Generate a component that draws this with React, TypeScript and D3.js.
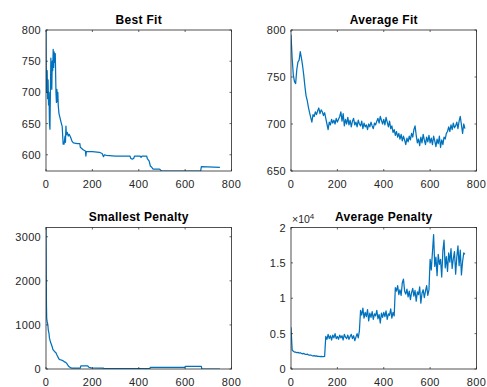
import React from 'react';
import * as d3 from 'd3';

// generation step used by the noisy (average) series
const STEP = 5;

// best fit: [generation, value]
const bestFit: [number, number][] = [
  [0, 800], [1, 740], [3, 700], [5, 735], [7, 690], [9, 720], [11, 680], [13, 700], [15, 650], [17, 641],
  [19, 700], [21, 755], [23, 720], [25, 705], [27, 750], [29, 735], [31, 769], [33, 740], [35, 765], [37, 748],
  [40, 762], [43, 700], [45, 684], [47, 705], [49, 685], [51, 700], [53, 678], [56, 666], [60, 660], [65, 652],
  [70, 645], [72, 630], [74, 617], [78, 617], [82, 630], [84, 620], [86, 646], [88, 632], [92, 636], [96, 630],
  [100, 633], [106, 628], [112, 622], [118, 619], [135, 618], [146, 618], [148, 612], [160, 608], [170, 606], [172, 598],
  [174, 605], [200, 605], [230, 604], [242, 602], [248, 597], [252, 600], [260, 599], [300, 598], [362, 598], [366, 594],
  [372, 593], [378, 594], [382, 598], [405, 598], [410, 596], [415, 598], [434, 598], [437, 594], [445, 590], [450, 582],
  [456, 580], [462, 577], [490, 577], [498, 574], [667, 574], [670, 581], [750, 580],
];

// average fit, one value every STEP generations from 0 to 750
const avgFit = [
  795, 770, 752, 745, 743, 758, 766, 768, 777, 770, 762, 752, 740, 730, 725, 718, 712, 707, 702, 710,
  708, 713, 710, 714, 717, 711, 715, 713, 709, 712, 706, 700, 694, 702, 699, 705, 701, 704, 700, 706,
  702, 705, 708, 713, 703, 711, 698, 705, 700, 707, 699, 704, 697, 703, 706, 699, 702, 697, 704, 700,
  698, 703, 695, 701, 697, 699, 694, 700, 697, 702, 698, 695, 701, 699, 703, 706, 701, 708, 704, 700,
  705, 699, 707, 702, 697, 703, 695, 698, 691, 694, 688, 692, 686, 690, 684, 689, 682, 687, 683, 678,
  685, 681, 687, 683, 690, 686, 694, 698, 688, 680, 684, 677, 686, 680, 689, 683, 678, 686, 681, 688,
  680, 685, 678, 687, 682, 676, 684, 679, 687, 675, 683, 678, 686, 684, 690, 692, 697, 692, 699, 694,
  701, 696, 698, 702, 695, 703, 708, 699, 690, 700, 695,
];

// smallest penalty: [generation, value]
const smallestPenalty: [number, number][] = [
  [0, 3210], [1, 2200], [2, 1450], [3, 1150], [5, 1080], [8, 1000], [10, 880], [13, 800], [15, 700], [17, 660],
  [20, 600], [23, 560], [27, 500], [30, 440], [33, 420], [37, 400], [40, 380], [43, 370], [46, 330], [50, 290],
  [55, 230], [60, 210], [65, 205], [70, 195], [75, 180], [80, 160], [85, 150], [90, 120], [95, 80], [100, 50],
  [106, 30], [110, 22], [148, 22], [150, 70], [180, 70], [185, 40], [195, 25], [248, 22], [250, 8], [448, 8],
  [450, 38], [599, 38], [601, 60], [670, 60], [672, 0], [750, 0],
];

// average penalty, one value every STEP generations from 0 to 750
const avgPenalty = [
  5900, 2700, 2500, 2400, 2380, 2300, 2350, 2250, 2300, 2200, 2150, 2200, 2100, 2050, 2100, 2000, 1950, 1980, 1900, 1870,
  1900, 1820, 1850, 1780, 1800, 1760, 1790, 1740, 1760, 1780, 4600, 4200, 4900, 4300, 4700, 4100, 4800, 4400, 5000, 4300,
  4600, 4200, 4800, 4400, 4700, 4100, 4900, 4500, 4300, 4800, 4200, 4600, 4900, 4300, 4700, 4000, 4500, 5000, 4400, 5400,
  8300, 7600, 8600, 7200, 8000, 7400, 8400, 6800, 7900, 7300, 8100, 7000, 7800, 7500, 8300, 7100, 7700, 6500, 7900, 7300,
  8000, 7400, 8200, 7000, 7800, 7600, 8500, 7200, 8000, 7500, 11500, 11000, 11800, 10500, 11200, 10400, 12200, 12700, 11000, 10600,
  11300, 10200, 11000, 9800, 10800, 11400, 10300, 11100, 9600, 10900, 10500, 11600, 9300, 10700, 11200, 10100, 11000, 11800, 10400, 11200,
  15500, 14000, 16500, 19000, 14500, 15800, 13200, 16200, 14800, 15500, 13000, 16700, 18200, 14300, 15900, 13800, 16400, 15100, 17000, 14200,
  15600, 16600, 13400, 15800, 17400, 14600, 16800, 13300, 15200, 16400, 16200,
];

const xTicks = [0, 200, 400, 600, 800];

const FONT = '"Liberation Sans", Arial, Helvetica, sans-serif';
const AXIS = '#262626';
const LINE = '#0072BD';

interface PanelProps {
  title: string;
  left: number;
  top: number;
  right: number;
  bottom: number;
  yDomain: [number, number];
  yTicks: number[];
  yFormat: (v: number) => string;
  points: [number, number][];
  exponent?: string;
}

const Panel: React.FC<PanelProps> = ({ title, left, top, right, bottom, yDomain, yTicks, yFormat, points, exponent }) => {
  const x = d3.scaleLinear().domain([0, 800]).range([left, right]);
  const y = d3.scaleLinear().domain(yDomain).range([bottom, top]);
  const line = d3.line<[number, number]>().x(d => x(d[0])).y(d => y(d[1]));
  const tl = 2;
  const cx = (left + right) / 2;
  const clipId = `clip-${title.replace(/\s/g, '')}`;
  return (
    <g>
      <defs>
        <clipPath id={clipId}>
          <rect x={left} y={top} width={right - left} height={bottom - top} />
        </clipPath>
      </defs>
      <rect x={left} y={top} width={right - left} height={bottom - top} fill="#fff" />
      <path
        d={line(points) || ''}
        fill="none"
        stroke={LINE}
        strokeWidth={1.25}
        strokeLinejoin="round"
        clipPath={`url(#${clipId})`}
      />
      {xTicks.map(t => (
        <g key={`x${t}`}>
          <line x1={x(t)} x2={x(t)} y1={bottom} y2={bottom - tl} stroke={AXIS} strokeWidth={0.7} />
          <line x1={x(t)} x2={x(t)} y1={top} y2={top + tl} stroke={AXIS} strokeWidth={0.7} />
          <text x={x(t)} y={bottom + 16.5} textAnchor="middle" fontSize={11} letterSpacing={0.3} fill={AXIS} fontFamily={FONT}>
            {t}
          </text>
        </g>
      ))}
      {yTicks.map(t => (
        <g key={`y${t}`}>
          <line x1={left} x2={left + tl} y1={y(t)} y2={y(t)} stroke={AXIS} strokeWidth={0.7} />
          <line x1={right} x2={right - tl} y1={y(t)} y2={y(t)} stroke={AXIS} strokeWidth={0.7} />
          <text x={left - 5} y={y(t) + 4} textAnchor="end" fontSize={11} letterSpacing={0.3} fill={AXIS} fontFamily={FONT}>
            {yFormat(t)}
          </text>
        </g>
      ))}
      <rect x={left} y={top} width={right - left} height={bottom - top} fill="none" stroke={AXIS} strokeWidth={0.8} />
      <text x={cx} y={top - 6.5} textAnchor="middle" fontSize={12} letterSpacing={0.3} fontWeight="bold" fill="#000" fontFamily={FONT}>
        {title}
      </text>
      {exponent && (
        <text x={left + 1} y={top - 4.5} fontSize={10.5} fill={AXIS} fontFamily={FONT}>
          ×10
          <tspan dy={-4.5} fontSize={8}>{exponent}</tspan>
        </text>
      )}
    </g>
  );
};

const withGens = (vals: number[]): [number, number][] => vals.map((v, i) => [i * STEP, v]);

export default function App() {
  const L1 = 46, R1 = 231.5, L2 = 291, R2 = 476.5;
  const T1 = 30, B1 = 171, T2 = 227.5, B2 = 369;
  return (
    <svg
      width={487}
      height={387}
      style={{ position: 'absolute', left: 0, top: 0, background: '#fff' }}
    >
      <rect width={487} height={387} fill="#fff" />
      <Panel
        title="Best Fit"
        left={L1} right={R1} top={T1} bottom={B1}
        yDomain={[574, 800]}
        yTicks={[600, 650, 700, 750, 800]}
        yFormat={v => String(v)}
        points={bestFit}
      />
      <Panel
        title="Average Fit"
        left={L2} right={R2} top={T1} bottom={B1}
        yDomain={[650, 800]}
        yTicks={[650, 700, 750, 800]}
        yFormat={v => String(v)}
        points={withGens(avgFit)}
      />
      <Panel
        title="Smallest Penalty"
        left={L1} right={R1} top={T2} bottom={B2}
        yDomain={[0, 3210]}
        yTicks={[0, 1000, 2000, 3000]}
        yFormat={v => String(v)}
        points={smallestPenalty}
      />
      <Panel
        title="Average Penalty"
        left={L2} right={R2} top={T2} bottom={B2}
        yDomain={[0, 20000]}
        yTicks={[0, 5000, 10000, 15000, 20000]}
        yFormat={v => String(v / 10000)}
        points={withGens(avgPenalty)}
        exponent="4"
      />
    </svg>
  );
}
